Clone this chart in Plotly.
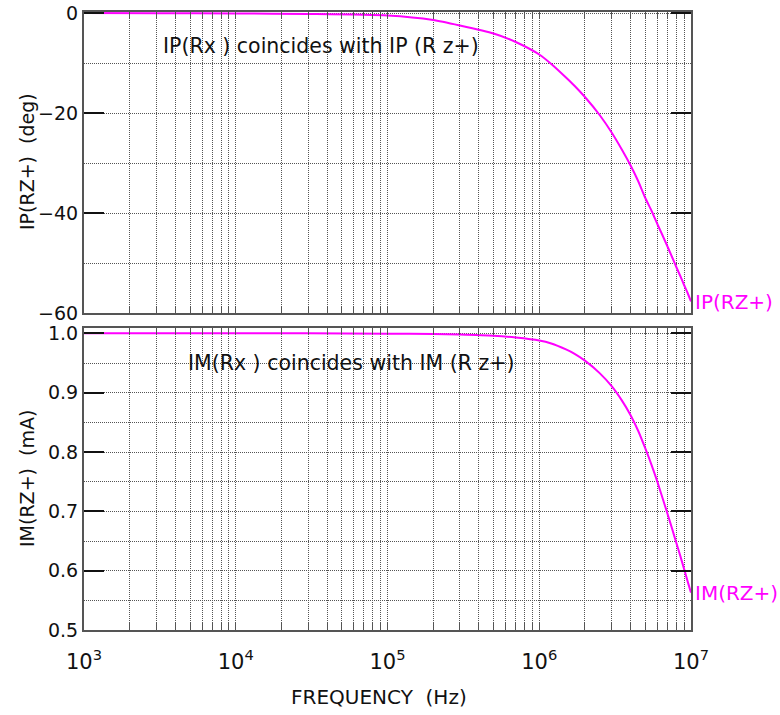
import plotly.graph_objects as go

# Frequency sweep (Hz) and the measured response of IP(RZ+) / IM(RZ+)
freq_hz = [1e3, 3e3, 1e4, 3e4, 1e5, 2e5, 3e5, 5e5, 7e5, 1e6, 1.2e6, 1.5e6,
           1.7e6, 2e6, 2.5e6, 3e6, 3.5e6, 4e6, 4.5e6, 5e6, 5.5e6, 6e6, 6.5e6,
           7e6, 7.5e6, 8e6, 8.5e6, 9e6, 9.5e6, 1e7]
phase_deg = [0.0, -0.03, -0.1, -0.2, -0.5, -1.4, -2.5, -4.1, -5.8, -8.3, -10.2,
             -12.9, -14.5, -16.8, -20.4, -23.9, -27.3, -30.5, -33.7, -37.0,
             -39.6, -42.2, -44.5, -46.7, -48.8, -50.8, -52.6, -54.4, -56.0, -57.7]
mag_ma = [1.0, 1.0, 1.0, 1.0, 0.9995, 0.999, 0.998, 0.996, 0.993, 0.988, 0.983,
          0.973, 0.966, 0.954, 0.933, 0.911, 0.887, 0.862, 0.835, 0.806, 0.778,
          0.750, 0.722, 0.696, 0.671, 0.647, 0.625, 0.603, 0.582, 0.563]

# Axis ticks
decades = [3, 4, 5, 6, 7]
phase_ticks = [-60, -40, -20, 0]
phase_labels = ["\u221260", "\u221240", "\u221220", "0"]
mag_ticks = [0.5, 0.6, 0.7, 0.8, 0.9, 1.0]
mag_labels = ["0.5", "0.6", "0.7", "0.8", "0.9", "1.0"]

x_tickvals = []
x_ticktext = []
for d in decades:
    for m in range(1, 10):
        if d == decades[-1] and m > 1:
            break
        x_tickvals.append(m * 10 ** d)
        x_ticktext.append(f"10<sup>{d}</sup>" if m == 1 else "")

FONT = "DejaVu Sans, Liberation Sans, Arial, sans-serif"
INK = "#111111"
TRACE_COLOR = "#ff00ff"
FRAME = "#555555"
GRID = "#555555"
GRID_DASH = "1px,1px"

W, H = 780, 715
x_dom = [84 / W, 691 / W]
top_dom = [1 - 313 / H, 1 - 11.7 / H]
bot_dom = [1 - 630 / H, 1 - 328.3 / H]

fig = go.Figure()
fig.add_trace(go.Scatter(x=freq_hz, y=phase_deg, mode="lines",
                         line=dict(color=TRACE_COLOR, width=2, shape="spline", smoothing=0.6),
                         xaxis="x", yaxis="y", showlegend=False))
fig.add_trace(go.Scatter(x=freq_hz, y=mag_ma, mode="lines",
                         line=dict(color=TRACE_COLOR, width=2, shape="spline", smoothing=0.6),
                         xaxis="x2", yaxis="y2", showlegend=False))

xcommon = dict(type="log", range=[3, 7], domain=x_dom, automargin=False,
               tickmode="array", tickvals=x_tickvals,
               showgrid=True, gridcolor=GRID, griddash=GRID_DASH, gridwidth=1,
               ticks="inside", ticklen=7, tickwidth=1, tickcolor=FRAME,
               mirror="allticks", showline=True, linecolor=FRAME, linewidth=2,
               zeroline=False)

ycommon = dict(tickmode="array", ticks="inside", ticklen=20, tickwidth=1.5,
               tickcolor=INK, mirror="allticks", showline=True, automargin=False,
               linecolor=FRAME, linewidth=2, zeroline=False,
               showgrid=True, gridcolor=GRID, griddash=GRID_DASH, gridwidth=1,
               tickfont=dict(family=FONT, size=19, color=INK),
               ticklabelstandoff=0)

fig.update_layout(
    width=W, height=H,
    margin=dict(l=0, r=0, t=0, b=0),
    paper_bgcolor="white", plot_bgcolor="white",
    font=dict(family=FONT, color=INK),
    xaxis=dict(**xcommon, anchor="y", ticktext=[""] * len(x_tickvals)),
    xaxis2=dict(**xcommon, anchor="y2", ticktext=x_ticktext,
                tickfont=dict(family=FONT, size=21, color=INK),
                ticklabelstandoff=12),
    yaxis=dict(**ycommon, domain=top_dom, anchor="x", range=[-60, 0.26],
               tickvals=phase_ticks, ticktext=phase_labels,
               minor=dict(dtick=10, tick0=0, showgrid=True, gridcolor=GRID,
                          griddash=GRID_DASH, ticks="")),
    yaxis2=dict(**ycommon, domain=bot_dom, anchor="x2", range=[0.5, 1.0085],
                tickvals=mag_ticks, ticktext=mag_labels,
                minor=dict(dtick=0.05, tick0=0.5, showgrid=True, gridcolor=GRID,
                           griddash=GRID_DASH, ticks="")),
)

ann = []
# y-axis titles
ann.append(dict(text="IP(RZ+)  (deg)", xref="paper", yref="paper",
                x=27 / W, y=1 - 162 / H, xanchor="center", yanchor="middle",
                textangle=-90, showarrow=False,
                font=dict(family=FONT, size=19, color=INK)))
ann.append(dict(text="IM(RZ+)  (mA)", xref="paper", yref="paper",
                x=27 / W, y=1 - 479 / H, xanchor="center", yanchor="middle",
                textangle=-90, showarrow=False,
                font=dict(family=FONT, size=19, color=INK)))
# x-axis title
ann.append(dict(text="FREQUENCY  (Hz)", xref="paper", yref="paper",
                x=379 / W, y=1 - 697 / H, xanchor="center", yanchor="middle",
                showarrow=False,
                font=dict(family=FONT, size=20, color=INK)))
# notes inside the panels
ann.append(dict(text="IP(Rx ) coincides with IP (R z+)", xref="paper", yref="paper",
                x=161 / W, y=1 - 46 / H, xanchor="left", yanchor="middle",
                showarrow=False,
                font=dict(family=FONT, size=20.5, color=INK)))
ann.append(dict(text="IM(Rx ) coincides with IM (R z+)", xref="paper", yref="paper",
                x=186 / W, y=1 - 363 / H, xanchor="left", yanchor="middle",
                showarrow=False,
                font=dict(family=FONT, size=20.5, color=INK)))
# trace labels at the end of each curve
ann.append(dict(text="IP(RZ+)", xref="x", yref="y", x=7, y=phase_deg[-1],
                xanchor="left", yanchor="middle", xshift=2, showarrow=False,
                font=dict(family=FONT, size=20, color=TRACE_COLOR)))
ann.append(dict(text="IM(RZ+)", xref="x2", yref="y2", x=7, y=mag_ma[-1],
                xanchor="left", yanchor="middle", xshift=2, showarrow=False,
                font=dict(family=FONT, size=20, color=TRACE_COLOR)))
fig.update_layout(annotations=ann)

fig.write_html("out.html")
